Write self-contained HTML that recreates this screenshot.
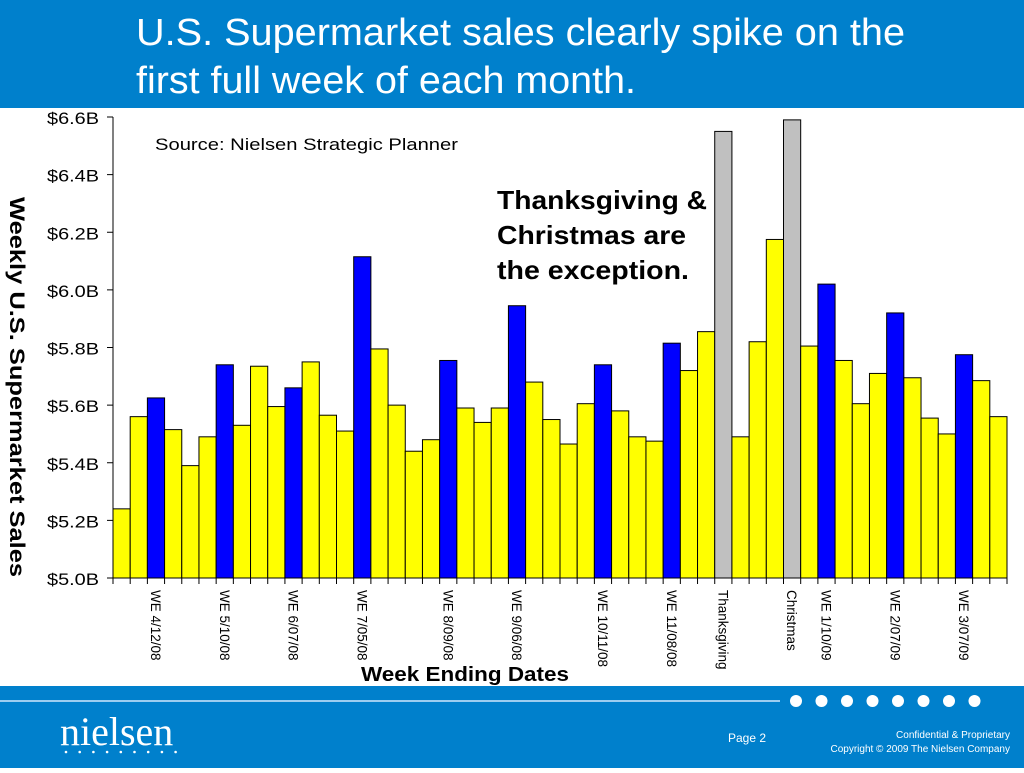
<!DOCTYPE html>
<html><head><meta charset="utf-8"><style>
body{margin:0;width:1024px;height:768px;overflow:hidden;background:#fff;font-family:"Liberation Sans",Arial,sans-serif;}
</style></head><body>
<svg width="1024" height="768" xmlns="http://www.w3.org/2000/svg">
<rect x="0" y="0" width="1024" height="108" fill="#0080cc"/>
<text x="136" y="45" font-size="38" fill="#fff" textLength="769" lengthAdjust="spacingAndGlyphs">U.S. Supermarket sales clearly spike on the</text>
<text x="136" y="93" font-size="38" fill="#fff" textLength="500" lengthAdjust="spacingAndGlyphs">first full week of each month.</text>
<rect x="0" y="686" width="1024" height="82" fill="#0080cc"/>
<line x1="0" y1="701" x2="780" y2="701" stroke="#9ccdf0" stroke-width="2"/>
<g id="dots"></g>
<text x="60" y="745" font-size="40" fill="#fff" font-family="Liberation Serif">nielsen</text>
<g id="ldots"></g>
<text x="728" y="742" font-size="12" fill="#fff">Page 2</text>
<text x="1010" y="738" font-size="10" fill="#fff" text-anchor="end">Confidential &amp; Proprietary</text>
<text x="1010" y="752" font-size="10" fill="#fff" text-anchor="end">Copyright © 2009 The Nielsen Company</text>
<g id="chart"></g>
<text x="155" y="150" font-size="17" fill="#000" textLength="303" lengthAdjust="spacingAndGlyphs">Source:  Nielsen Strategic Planner</text>
<text x="497" y="209" font-size="26" font-weight="bold" fill="#000" textLength="210" lengthAdjust="spacingAndGlyphs">Thanksgiving &amp;</text>
<text x="497" y="244" font-size="26" font-weight="bold" fill="#000" textLength="189" lengthAdjust="spacingAndGlyphs">Christmas are</text>
<text x="497" y="279" font-size="26" font-weight="bold" fill="#000" textLength="192" lengthAdjust="spacingAndGlyphs">the exception.</text>
<text transform="translate(10,387) rotate(90)" font-size="21" font-weight="bold" text-anchor="middle" fill="#000" textLength="380" lengthAdjust="spacingAndGlyphs">Weekly U.S. Supermarket Sales</text>
<text x="465" y="681" font-size="20" font-weight="bold" text-anchor="middle" fill="#000" textLength="208" lengthAdjust="spacingAndGlyphs">Week Ending Dates</text>
</svg>
<script>
const values=[5.24,5.56,5.625,5.515,5.39,5.49,5.74,5.53,5.735,5.595,5.66,5.75,5.565,5.51,6.115,5.795,5.60,5.44,5.48,5.755,5.59,5.54,5.59,5.945,5.68,5.55,5.465,5.605,5.74,5.58,5.49,5.475,5.815,5.72,5.855,6.55,5.49,5.82,6.175,6.59,5.805,6.02,5.755,5.605,5.71,5.92,5.695,5.555,5.50,5.775,5.685,5.56];
const kinds="yybyyybyyybyyybyyyybyyybyyyybyyybyygyyygybyyybyyybyy";
const labelIdx=[2,6,10,14,19,23,28,32,35,39,41,45,49];
const labelText=["WE 4/12/08","WE 5/10/08","WE 6/07/08","WE 7/05/08","WE 8/09/08","WE 9/06/08","WE 10/11/08","WE 11/08/08","Thanksgiving","Christmas","WE 1/10/09","WE 2/07/09","WE 3/07/09"];
const yTicks=[5.0,5.2,5.4,5.6,5.8,6.0,6.2,6.4,6.6];
const NS="http://www.w3.org/2000/svg";
const X0=113,X1=1007,Y0=578,Y1=117,VMIN=5.0,VMAX=6.6;
const bw=(X1-X0)/values.length;
const y=v=>Y0-(v-VMIN)/(VMAX-VMIN)*(Y0-Y1);
const x=i=>X0+i*bw;
const g=document.getElementById('chart');
function mk(t,a){const e=document.createElementNS(NS,t);for(const k in a)e.setAttribute(k,a[k]);g.appendChild(e);return e;}
const col={y:'#ffff00',b:'#0000ff',g:'#c0c0c0'};
values.forEach((v,i)=>{const r=mk('rect',{x:x(i),y:y(v),width:bw,height:Y0-y(v),fill:col[kinds[i]]||'#ffff00',stroke:'#000','stroke-width':1});

});
const ax=mk('line',{x1:X0,y1:Y1,x2:X0,y2:Y0,stroke:'#000'});


const bx=mk('line',{x1:X0,y1:Y0,x2:X1,y2:Y0,stroke:'#000'});


yTicks.forEach(t=>{const l=mk('line',{x1:X0-6,y1:y(t),x2:X0,y2:y(t),stroke:'#000'});


const tx=mk('text',{x:X0-14,y:y(t)+7,'font-size':17,'text-anchor':'end',textLength:52,lengthAdjust:'spacingAndGlyphs'});tx.textContent='$'+t.toFixed(1)+'B';

});
for(let i=0;i<=values.length;i++){const l=mk('line',{x1:x(i),y1:Y0,x2:x(i),y2:Y0+6,stroke:'#000'});

}
labelIdx.forEach((bi,k)=>{const cx=x(bi)+bw/2-5;const tx=mk('text',{transform:`translate(${cx},590) rotate(90)`,'font-size':13.5});tx.textContent=labelText[k];

});
const d=document.getElementById('dots');
for(let i=0;i<8;i++){const c=document.createElementNS(NS,'circle');c.setAttribute('cx',796+i*25.5);c.setAttribute('cy',701);c.setAttribute('r',6);c.setAttribute('fill','#fff');d.appendChild(c);

}
const ld=document.getElementById('ldots');
for(let i=0;i<9;i++){const c=document.createElementNS(NS,'circle');c.setAttribute('cx',66+i*13.7);c.setAttribute('cy',752);c.setAttribute('r',1.3);c.setAttribute('fill','#fff');ld.appendChild(c);

}
</script>
</body></html>
